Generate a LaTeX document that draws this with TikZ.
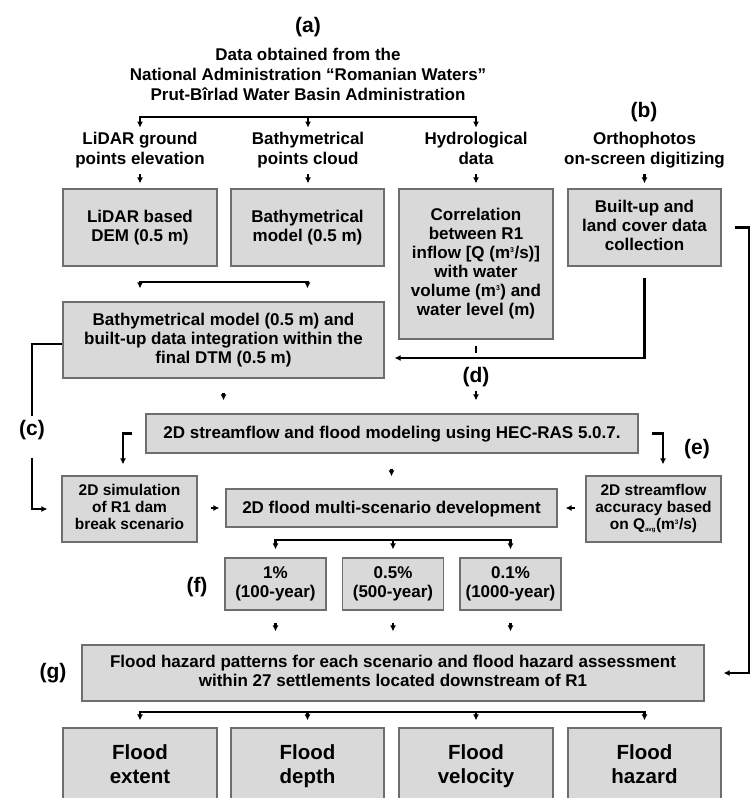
\documentclass[tikz,border=0pt]{standalone}
\usepackage{fontspec}
\setmainfont{Liberation Sans}
\usetikzlibrary{arrows.meta}
\definecolor{boxfill}{RGB}{217,217,217}
\definecolor{boxline}{RGB}{110,110,110}

\begin{document}
\begin{tikzpicture}[x=1pt, y=-1pt, >={Latex[length=6pt,width=6pt]},
  blk/.style={draw=boxline, fill=boxfill, line width=1.2pt, align=center, inner sep=2pt, font=\bfseries\fontsize{17}{19}\selectfont, execute at begin node={\rule[-4pt]{0pt}{18pt}}, execute at end node={\rule[-4pt]{0pt}{18pt}}},
  blksmall/.style={font=\bfseries\fontsize{15.5}{17}\selectfont, execute at begin node={\rule[-4pt]{0pt}{17pt}}, execute at end node={\rule[-4pt]{0pt}{17pt}}},
  blklarge/.style={font=\bfseries\fontsize{20.5}{24}\selectfont, execute at begin node={\rule[-4.5pt]{0pt}{22pt}}, execute at end node={\rule[-4.5pt]{0pt}{22pt}}},
  txt/.style={align=center, inner sep=0pt, font=\bfseries\fontsize{17}{20}\selectfont, execute at begin node=\strut, execute at end node=\strut},
  tag/.style={inner sep=0pt, font=\bfseries\fontsize{21}{24}\selectfont},
  wire/.style={->, line width=2.2pt}]
\useasboundingbox (0,0) rectangle (752,798);
\clip (0,0) rectangle (752,798);

% Sources
\node[tag] (tagA) at (308,27) {(a)};
\node[txt] (src) at (308,77) {Data obtained from the\\National Administration “Romanian Waters”\\Prut-Bîrlad Water Basin Administration};
\coordinate (spl) at (308,117);
\node[txt] (lidar) at (140,151) {LiDAR ground\\points elevation};
\node[txt] (bathy) at (308,151) {Bathymetrical\\points cloud};
\node[txt] (hydro) at (476,151) {Hydrological\\data};
\node[tag] (tagB) at (644,112) {(b)};
\node[txt] (ortho) at (644.5,151) {Orthophotos\\on-screen digitizing};

% Blocks
\node[blk, minimum width=154pt, minimum height=77pt] (dem) at (140,227.5) {LiDAR based\\DEM (0.5 m)};
\node[blk, minimum width=153pt, minimum height=77pt] (bmod) at (307.5,227.5) {Bathymetrical\\model (0.5 m)};
\node[blk, minimum width=154pt, minimum height=150pt] (corr) at (476,264) {Correlation\\between R1\\inflow [Q (m\textsuperscript{\fontsize{7}{7}\selectfont 3}/s)]\\with water\\volume (m\textsuperscript{\fontsize{7}{7}\selectfont 3}) and\\water level (m)};
\node[blk, minimum width=153pt, minimum height=77pt] (lcov) at (644.5,227.5) {Built-up and\\land cover data\\collection};

\node[blk, minimum width=321pt, minimum height=76pt] (integ) at (223.5,340) {Bathymetrical model (0.5 m) and\\built-up data integration within the\\final DTM (0.5 m)};
\node[tag] (tagD) at (476,377) {(d)};
\node[blk, minimum width=492pt, minimum height=39pt] (flow) at (392,433.5) {2D streamflow and flood modeling using HEC-RAS 5.0.7.};
\node[tag, inner sep=4pt] (tagC) at (32,430) {(c)};
\node[tag] (tagE) at (697,449) {(e)};

\node[blk, blksmall, minimum width=135pt, minimum height=66pt] (sim) at (129.5,509) {2D simulation\\of R1 dam\\break scenario};
\node[blk, minimum width=331pt, minimum height=38pt] (scen) at (391.5,508) {2D flood multi-scenario development};
\node[blk, blksmall, minimum width=135pt, minimum height=66pt] (acc) at (653.5,509) {2D streamflow\\accuracy based\\on Q\textsubscript{\fontsize{6}{6}\selectfont avg}(m\textsuperscript{\fontsize{6.5}{6.5}\selectfont 3}/s)};

\node[tag] (tagF) at (197,587) {(f)};
\node[blk, minimum width=101pt, minimum height=52pt] (p100) at (275.5,584) {1\%\\(100-year)};
\node[blk, minimum width=101pt, minimum height=52pt] (p500) at (393,584) {0.5\%\\(500-year)};
\node[blk, minimum width=101pt, minimum height=52pt] (p1000) at (510.5,584) {0.1\%\\(1000-year)};

\node[tag] (tagG) at (53,673) {(g)};
\node[blk, minimum width=622pt, minimum height=56pt] (haz) at (393,673) {Flood hazard patterns for each scenario and flood hazard assessment\\within 27 settlements located downstream of R1};

\node[blk, blklarge, minimum width=154pt, minimum height=76pt] (ext) at (140,766) {Flood\\extent};
\node[blk, blklarge, minimum width=153pt, minimum height=76pt] (dep) at (307.5,766) {Flood\\depth};
\node[blk, blklarge, minimum width=154pt, minimum height=76pt] (vel) at (476,766) {Flood\\velocity};
\node[blk, blklarge, minimum width=153pt, minimum height=76pt] (hzd) at (644.5,766) {Flood\\hazard};

% Connections
\draw[wire, shorten >=4pt] (spl) -| (lidar);
\draw[wire, shorten >=4pt] (spl) -- (bathy);
\draw[wire, shorten >=4pt] (spl) -| (hydro);

\draw[wire, shorten <=4pt, shorten >=5pt] (lidar) -- (dem);
\draw[wire, shorten <=4pt, shorten >=5pt] (bathy) -- (bathy |- bmod.north);
\draw[wire, shorten <=4pt, shorten >=5pt] (hydro) -- (corr);
\draw[wire, shorten <=4pt, shorten >=5pt] (ortho) -- (lcov);

\coordinate (mrg) at (224,282);
\draw[wire, shorten >=13pt] (mrg) -| (dem.south |- integ.north);
\draw[wire, shorten >=13pt] (mrg) -| (bmod.south |- integ.north);

\draw[wire, shorten <=11pt, shorten >=10pt] (lcov) |- ([yshift=-18pt]integ.east);
\draw[line width=2.2pt, shorten <=6pt, shorten >=14pt] (corr) -- (tagD);
\draw[wire, shorten <=4pt, shorten >=13pt] (tagD) -- (flow.north -| tagD);
\draw[wire, shorten <=14pt, shorten >=13pt] (integ) -- (integ.south |- flow.north);

\draw[wire, shorten <=14pt, shorten >=14pt] ([yshift=-4pt]integ.west) -| (tagC) |- (sim);
\draw[wire, shorten <=13pt, shorten >=11pt] (flow) -| ([xshift=-6.5pt]sim.north);
\draw[wire, shorten <=13pt, shorten >=11pt] (flow) -| ([xshift=9.5pt]acc.north);
\draw[wire, shorten <=15pt, shorten >=12pt] (flow.south -| scen) -- (scen);
\draw[wire, shorten <=13pt, shorten >=6pt] (sim.east |- scen) -- (scen);
\draw[wire, shorten <=10pt, shorten >=8pt] (acc.west |- scen) -- (scen);

\coordinate (spl2) at (393,540);
\draw[wire, shorten >=8pt] (spl2) -| (p100);
\draw[wire, shorten >=8pt] (spl2) -- (p500);
\draw[wire, shorten >=8pt] (spl2) -| (p1000);

\draw[wire, shorten <=12pt, shorten >=13pt] (p100) -- (p100 |- haz.north);
\draw[wire, shorten <=12pt, shorten >=13pt] (p500) -- (p500 |- haz.north);
\draw[wire, shorten <=12pt, shorten >=13pt] (p1000) -- (p1000 |- haz.north);

\coordinate (rside) at (749,450);
\draw[wire, shorten <=13pt, shorten >=19pt] (lcov) -| (rside) |- (haz);

\coordinate (spl3) at (393,712);
\draw[wire, shorten >=7pt] (spl3) -| (ext);
\draw[wire, shorten >=7pt] (spl3) -| (dep);
\draw[wire, shorten >=7pt] (spl3) -| (vel);
\draw[wire, shorten >=7pt] (spl3) -| (hzd);
\end{tikzpicture}
\end{document}
